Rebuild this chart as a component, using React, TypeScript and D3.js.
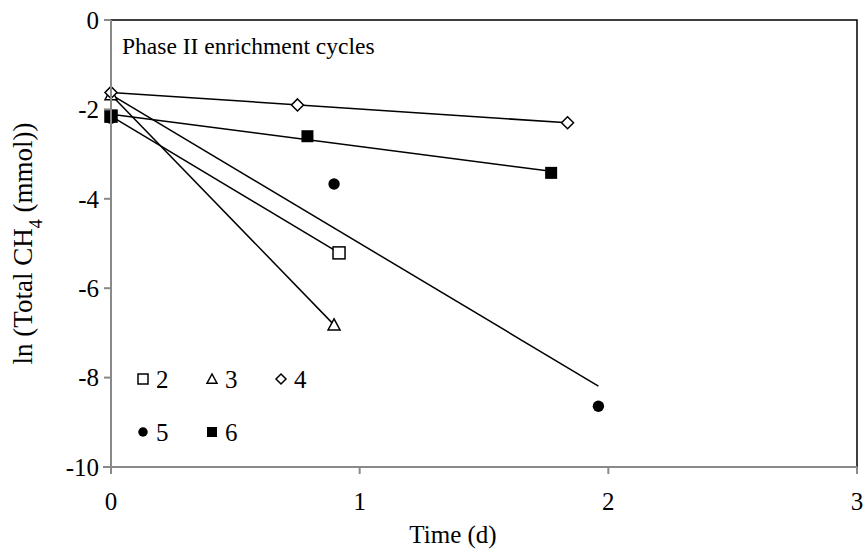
import * as d3 from "d3";

const WIDTH = 866;
const HEIGHT = 552;
const MARGIN = { top: 20, right: 9, bottom: 85, left: 111 };

type Pt = { t: number; v: number };
type Series = { name: string; symbol: string; points: Pt[] };

// cycle 2..6, ln(total CH4) vs time (d)
const cycle2: Pt[] = [{ t: 0, v: -2.15 }, { t: 0.917, v: -5.21 }];
const cycle3: Pt[] = [{ t: 0, v: -1.67 }, { t: 0.897, v: -6.82 }];
const cycle4: Pt[] = [{ t: 0, v: -1.62 }, { t: 0.75, v: -1.9 }, { t: 1.836, v: -2.3 }];
const cycle5: Pt[] = [{ t: 0, v: -2.2 }, { t: 0.897, v: -3.67 }, { t: 1.96, v: -8.64 }];
const cycle6: Pt[] = [{ t: 0, v: -2.15 }, { t: 0.79, v: -2.6 }, { t: 1.77, v: -3.42 }];

const series: Series[] = [
    { name: "2", symbol: "openSquare", points: cycle2 },
    { name: "3", symbol: "openTriangle", points: cycle3 },
    { name: "4", symbol: "openDiamond", points: cycle4 },
    { name: "5", symbol: "dot", points: cycle5 },
    { name: "6", symbol: "square", points: cycle6 },
];

const xTicks = [0, 1, 2, 3];
const yTicks = [0, -2, -4, -6, -8, -10];

const FONT = '"Liberation Serif", "Times New Roman", serif';

// least squares trend line, like excel's linear trendline
const fitLine = (pts: Pt[]) => {
    const mx = d3.mean(pts, (d) => d.t) ?? 0;
    const my = d3.mean(pts, (d) => d.v) ?? 0;
    const sxx = d3.sum(pts, (d) => (d.t - mx) ** 2);
    const sxy = d3.sum(pts, (d) => (d.t - mx) * (d.v - my));
    const slope = sxy / sxx;
    const icpt = my - slope * mx;
    const [t0, t1] = d3.extent(pts, (d) => d.t) as [number, number];
    return [
        { t: t0, v: icpt + slope * t0 },
        { t: t1, v: icpt + slope * t1 },
    ];
};

const Marker = ({ symbol, x, y, s }: { symbol: string; x: number; y: number; s: number }) => {
    const h = s / 2;
    if (symbol === "openSquare")
        return <rect x={x - h} y={y - h} width={s} height={s} fill="#fff" stroke="#000" strokeWidth={1.5} />;
    if (symbol === "square")
        return <rect x={x - h} y={y - h} width={s} height={s} fill="#000" />;
    if (symbol === "dot") return <circle cx={x} cy={y} r={h * 0.95} fill="#000" />;
    if (symbol === "openTriangle")
        return (
            <path
                d={`M${x},${y - h}L${x + h},${y + h * 0.85}L${x - h},${y + h * 0.85}Z`}
                fill="#fff"
                stroke="#000"
                strokeWidth={1.5}
            />
        );
    return (
        <path
            d={`M${x},${y - h}L${x + h},${y}L${x},${y + h}L${x - h},${y}Z`}
            fill="#fff"
            stroke="#000"
            strokeWidth={1.5}
        />
    );
};

export default function App() {
    const boundsWidth = WIDTH - MARGIN.left - MARGIN.right;
    const boundsHeight = HEIGHT - MARGIN.top - MARGIN.bottom;

    const xScale = d3.scaleLinear().domain([0, 3]).range([0, boundsWidth]);
    const yScale = d3.scaleLinear().domain([-10, 0]).range([boundsHeight, 0]);

    const line = d3
        .line<Pt>()
        .x((d) => xScale(d.t))
        .y((d) => yScale(d.v));

    const legendRows = [
        [series[0], series[1], series[2]],
        [series[3], series[4]],
    ];

    return (
        <svg
            width={WIDTH}
            height={HEIGHT}
            style={{ position: "absolute", left: 0, top: 0, background: "#fff" }}
            fontFamily={FONT}
        >
            <g transform={`translate(${MARGIN.left},${MARGIN.top})`}>
                {/* plot area border (top + right) */}
                <path
                    d={`M0,0H${boundsWidth}V${boundsHeight}`}
                    fill="none"
                    stroke="#000"
                    strokeWidth={1.5}
                />

                {/* trend lines */}
                {series.map((s) => (
                    <path key={"l" + s.name} d={line(fitLine(s.points)) ?? ""} fill="none" stroke="#000" strokeWidth={1.5} />
                ))}

                {/* points */}
                {series.map((s) =>
                    s.points.map((p, i) => (
                        <Marker key={s.name + "-" + i} symbol={s.symbol} x={xScale(p.t)} y={yScale(p.v)} s={12} />
                    ))
                )}

                {/* axes */}
                <g stroke="#898989" strokeWidth={2}>
                    <line x1={0} x2={0} y1={0} y2={boundsHeight} />
                    <line x1={-8} x2={boundsWidth} y1={boundsHeight} y2={boundsHeight} />
                    {yTicks.map((t) => (
                        <line key={"yt" + t} x1={-7} x2={0} y1={yScale(t)} y2={yScale(t)} />
                    ))}
                    {xTicks.map((t) => (
                        <line key={"xt" + t} x1={xScale(t)} x2={xScale(t)} y1={boundsHeight} y2={boundsHeight + 7} />
                    ))}
                </g>
                {yTicks.map((t) => (
                    <text key={"yl" + t} x={-12} y={yScale(t)} dy="0.35em" textAnchor="end" fontSize={25}>
                        {t}
                    </text>
                ))}
                {xTicks.map((t) => (
                    <text key={"xl" + t} x={xScale(t)} y={boundsHeight + 43} textAnchor="middle" fontSize={25}>
                        {t}
                    </text>
                ))}

                <text x={11} y={34} fontSize={23.5}>
                    Phase II enrichment cycles
                </text>

                {/* legend */}
                {legendRows.map((row, r) =>
                    row.map((s, c) => {
                        const lx = 32 + c * 69;
                        const ly = boundsHeight - 88 + r * 53;
                        return (
                            <g key={"lg" + s.name}>
                                <Marker symbol={s.symbol} x={lx} y={ly} s={10} />
                                <text x={lx + 13} y={ly} dy="0.36em" fontSize={25}>
                                    {s.name}
                                </text>
                            </g>
                        );
                    })
                )}

                <text
                    x={453 - MARGIN.left}
                    y={boundsHeight + 76}
                    textAnchor="middle"
                    fontSize={25}
                >
                    Time (d)
                </text>
                <text
                    transform={`translate(${-MARGIN.left + 32},${boundsHeight / 2}) rotate(-90)`}
                    textAnchor="middle"
                    fontSize={27}
                >
                    ln (Total CH<tspan baselineShift="sub" fontSize={18}>4</tspan> (mmol))
                </text>
            </g>
        </svg>
    );
}
